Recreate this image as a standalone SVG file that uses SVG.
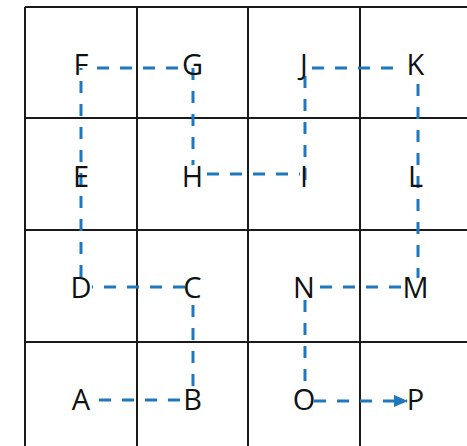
<svg xmlns="http://www.w3.org/2000/svg" width="467" height="446" viewBox="0 0 467 446">
<style>
.grid{stroke:#1a1a1a;stroke-width:2;fill:none}
.lbl{font-family:"Open Sans","Liberation Sans",sans-serif;font-size:29px;fill:#111;text-anchor:middle}
.c{stroke:#1f77bd;stroke-width:3;stroke-dasharray:12 11;fill:none}
</style>
<defs>
<marker id="ah" markerWidth="14" markerHeight="12" refX="13" refY="6" orient="auto" markerUnits="userSpaceOnUse">
<path d="M0,0 L14,6 L0,12 Z" fill="#1f77bd"/>
</marker>
</defs>
<rect width="467" height="446" fill="#fff"/>
<g id="grid" class="grid">
<line x1="25" y1="7" x2="467" y2="7"/>
<line x1="25" y1="118" x2="467" y2="118"/>
<line x1="25" y1="230" x2="467" y2="230"/>
<line x1="25" y1="342" x2="467" y2="342"/>
<line x1="25" y1="7" x2="25" y2="446"/>
<line x1="137" y1="7" x2="137" y2="446"/>
<line x1="248" y1="7" x2="248" y2="446"/>
<line x1="360" y1="7" x2="360" y2="446"/>
</g>
<g id="connectors">
<path class="c" d="M99,400 H186"/>
<path class="c" d="M193,386 V300"/>
<path class="c" d="M185,287 H92"/>
<path class="c" d="M81,277 V68"/>
<path class="c" d="M97,68 H184"/>
<path class="c" d="M193,68 V165"/>
<path class="c" d="M207,174 H300"/>
<path class="c" d="M305,180 V68"/>
<path class="c" d="M312,68 H404"/>
<path class="c" d="M418,84 V278"/>
<path class="c" d="M401,287 H315"/>
<path class="c" d="M305,300 V385"/>
<path class="c" d="M314,401 H407" marker-end="url(#ah)"/>
</g>
<g id="F"><text class="lbl" x="81" y="75">F</text></g>
<g id="G"><text class="lbl" x="192.5" y="75">G</text></g>
<g id="J"><text class="lbl" x="304" y="75">J</text></g>
<g id="K"><text class="lbl" x="415.5" y="75">K</text></g>
<g id="E"><text class="lbl" x="81" y="187">E</text></g>
<g id="H"><text class="lbl" x="192.5" y="187">H</text></g>
<g id="I"><text class="lbl" x="304" y="187">I</text></g>
<g id="L"><text class="lbl" x="415.5" y="187">L</text></g>
<g id="D"><text class="lbl" x="81" y="298">D</text></g>
<g id="C"><text class="lbl" x="192.5" y="298">C</text></g>
<g id="N"><text class="lbl" x="304" y="298">N</text></g>
<g id="M"><text class="lbl" x="415.5" y="298">M</text></g>
<g id="A"><text class="lbl" x="81" y="410">A</text></g>
<g id="B"><text class="lbl" x="192.5" y="410">B</text></g>
<g id="O"><text class="lbl" x="304" y="410">O</text></g>
<g id="P"><text class="lbl" x="415.5" y="410">P</text></g>
</svg>
